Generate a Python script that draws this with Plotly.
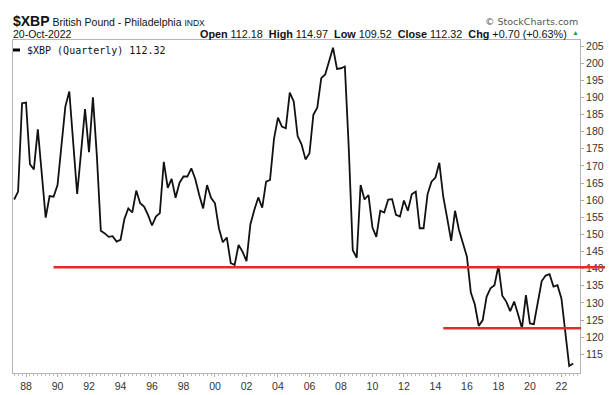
import pandas as pd
import plotly.graph_objects as go

# Quarterly closes of $XBP, Q2 1987 .. Q4 2022
closes = [
    160.2, 162.5, 188.3,                 # 1987 Q2-Q4
    188.5, 170.5, 169.0, 180.7,          # 1988
    168.0, 154.9, 161.2, 161.0,          # 1989
    164.4, 176.0, 187.3, 191.7,          # 1990
    176.5, 161.8, 174.0, 186.6,          # 1991
    174.0, 190.0, 173.0, 151.1,          # 1992
    150.3, 149.3, 149.5, 147.9,          # 1993
    148.4, 154.5, 157.6, 156.4,          # 1994
    162.8, 159.1, 158.1, 155.7,          # 1995
    152.6, 155.2, 156.2, 171.2,          # 1996
    163.6, 166.2, 160.7, 165.1,          # 1997
    166.9, 166.9, 169.3, 166.2,          # 1998
    161.5, 157.6, 164.4, 160.7,          # 1999
    159.1, 151.8, 147.7, 149.1,          # 2000
    141.6, 141.1, 146.9, 145.0,          # 2001
    142.2, 152.9, 157.1, 160.8,          # 2002
    157.8, 165.4, 165.9, 177.9,          # 2003
    184.1, 181.5, 181.0, 191.4,          # 2004
    188.8, 178.7, 176.3, 171.9,          # 2005
    173.7, 184.9, 187.0, 195.6,          # 2006
    196.7, 200.4, 204.5, 198.3,          # 2007
    198.5, 199.0, 175.0, 145.4,          # 2008
    143.2, 164.4, 160.2, 161.5,          # 2009
    152.0, 149.3, 156.9, 156.4,          # 2010
    160.2, 160.3, 155.7, 155.2,          # 2011
    159.9, 156.9, 161.7, 162.5,          # 2012
    151.8, 151.8, 161.7, 165.4,          # 2013
    166.6, 170.9, 161.0, 154.7,          # 2014
    148.1, 156.9, 151.3, 147.4,          # 2015
    143.5, 133.0, 129.6, 123.3,          # 2016
    125.0, 131.8, 134.3, 135.2,          # 2017
    140.8, 132.1, 130.4, 127.6,          # 2018
    130.4, 126.7, 122.6, 132.3,          # 2019
    124.0, 123.8, 129.6, 136.4,          # 2020
    138.0, 138.4, 134.8, 135.2,          # 2021
    131.3, 121.5, 111.6, 112.32,         # 2022
]
first_quarter = "1987-04-01"
dates = pd.date_range(first_quarter, periods=len(closes), freq="QS")

# Support / resistance lines drawn on the chart
level_values = [140.4, 122.6]
level_starts = ["1989-10-01", "2014-07-01"]
level_end_px = [605, 581]

y_ticks = list(range(115, 206, 5))

W, H = 611, 395
L, R, T, B = 13, 31, 40, 22
X0, X1 = pd.Timestamp("1987-03-05"), pd.Timestamp("2023-03-08")
Y0, Y1 = 109.55, 206.75


def xfrac(d):
    return (pd.Timestamp(d) - X0) / (X1 - X0)


def px(x):
    return (x - L) / (W - L - R)


def py(y):
    return (H - B - y) / (H - T - B)


fig = go.Figure()
fig.add_trace(go.Scatter(x=dates, y=closes, mode="lines",
                         line=dict(color="#111111", width=1.8),
                         hoverinfo="x+y", showlegend=False))

shapes = []
for v, s, e in zip(level_values, level_starts, level_end_px):
    shapes.append(dict(type="line", xref="paper", yref="y",
                       x0=xfrac(s), x1=px(e), y0=v, y1=v,
                       line=dict(color="rgb(226,45,35)", width=2.5), layer="above"))
# legend dash
shapes.append(dict(type="line", xref="paper", yref="paper",
                   x0=px(13), x1=px(20), y0=py(50), y1=py(50),
                   line=dict(color="black", width=3)))

ann = []
ann.append(dict(xref="paper", yref="paper", x=px(11), y=py(21), xanchor="left", yanchor="middle",
                showarrow=False,
                text="<b><span style='font-size:14px'>$XBP</span></b> British Pound - Philadelphia "
                     "<span style='font-size:8.5px'>INDX</span>",
                font=dict(family="Arial", size=10.5, color="#111")))
ann.append(dict(xref="paper", yref="paper", x=px(11), y=py(34), xanchor="left", yanchor="middle",
                showarrow=False, text="20-Oct-2022",
                font=dict(family="Arial", size=10.5, color="#111")))
ann.append(dict(xref="paper", yref="paper", x=px(569), y=py(34), xanchor="right", yanchor="middle",
                showarrow=False,
                text="<b>Open</b> 112.18  <b>High</b> 114.97  <b>Low</b> 109.52  "
                     "<b>Close</b> 112.32  <b>Chg</b> +0.70 (+0.63%)",
                font=dict(family="Arial", size=10.8, color="#111")))
ann.append(dict(xref="paper", yref="paper", x=px(570), y=py(33), xanchor="left", yanchor="middle",
                showarrow=False, text="▲",
                font=dict(family="Arial", size=7, color="#2e9e3e")))
ann.append(dict(xref="paper", yref="paper", x=px(580), y=py(21), xanchor="right", yanchor="middle",
                showarrow=False, text="© StockCharts.com",
                font=dict(family="DejaVu Sans", size=9.5, color="#555")))
ann.append(dict(xref="paper", yref="paper", x=px(25), y=py(50), xanchor="left", yanchor="middle",
                showarrow=False, text="$XBP (Quarterly) 112.32",
                font=dict(family="DejaVu Sans Mono", size=10, color="#111")))

fig.update_layout(
    width=W, height=H,
    margin=dict(l=L, r=R, t=T, b=B, pad=0),
    paper_bgcolor="white", plot_bgcolor="white",
    shapes=shapes, annotations=ann,
    xaxis=dict(type="date", range=[X0, X1], showgrid=False, zeroline=False,
               tick0="1988-01-01", dtick="M24", tickformat="%y",
               ticks="outside", ticklen=3, tickcolor="#aaa",
               minor=dict(dtick="M3", ticks="outside", ticklen=2, tickcolor="#bbb", showgrid=False),
               showline=True, mirror=True, linecolor="#b5b5b5", linewidth=1,
               tickfont=dict(family="Arial", size=10.5, color="#333"), automargin=False),
    yaxis=dict(side="right", range=[Y0, Y1], showgrid=False, zeroline=False,
               tickvals=y_ticks, ticks="outside", ticklen=3, tickcolor="#aaa",
               showline=True, mirror=True, linecolor="#b5b5b5", linewidth=1,
               tickfont=dict(family="Arial", size=10.5, color="#333"), automargin=False),
)

fig.write_html("out.html", config={"displayModeBar": False},
               post_script="document.body.style.margin='0';document.body.style.padding='0';")
